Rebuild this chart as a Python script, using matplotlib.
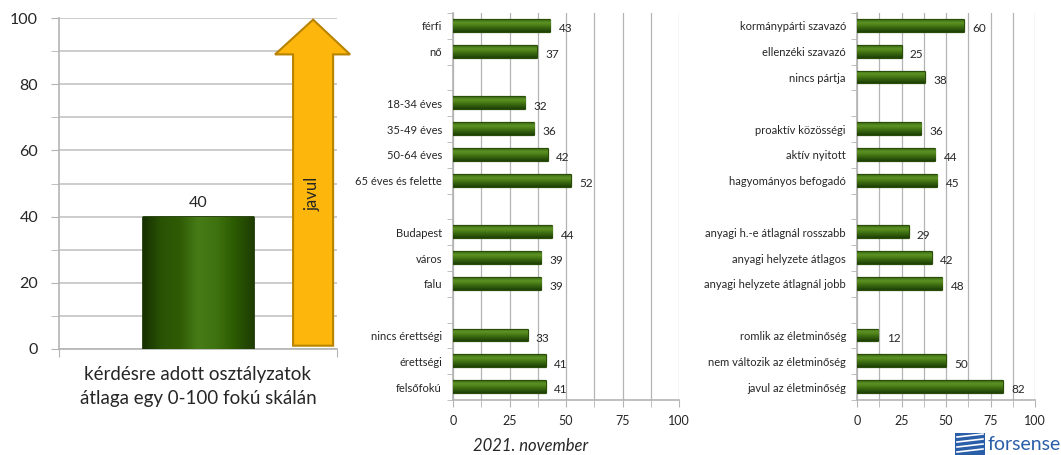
import matplotlib
matplotlib.use("Agg")
import matplotlib.pyplot as plt
import numpy as np
from matplotlib.patches import Polygon, Rectangle
from matplotlib.colors import LinearSegmentedColormap
import matplotlib.transforms as mtransforms

plt.rcParams["font.family"] = ["Lato", "DejaVu Sans"]

# ── data ──
TOTAL_LABEL = "kérdésre adott osztályzatok\nátlaga egy 0-100 fokú skálán"
TOTAL_VALUE = 40

MID_LABELS = ["férfi", "nő", "",
              "18-34 éves", "35-49 éves", "50-64 éves", "65 éves és felette", "",
              "Budapest", "város", "falu", "",
              "nincs érettségi", "érettségi", "felsőfokú"]
MID_VALUES = [43, 37, None, 32, 36, 42, 52, None, 44, 39, 39, None, 33, 41, 41]

RIGHT_LABELS = ["kormánypárti szavazó", "ellenzéki szavazó", "nincs pártja", "",
                "proaktív közösségi", "aktív nyitott", "hagyományos befogadó", "",
                "anyagi h.-e átlagnál rosszabb", "anyagi helyzete átlagos",
                "anyagi helyzete átlagnál jobb", "",
                "romlik az életminőség", "nem változik az életminőség",
                "javul az életminőség"]
RIGHT_VALUES = [60, 25, 38, None, 36, 44, 45, None, 29, 42, 48, None, 12, 50, 82]

XTICKS = [0, 25, 50, 75, 100]
YTICKS_LEFT = [0, 20, 40, 60, 80, 100]

GRID = "#b4b4b4"
TXT = "#262626"

hbar_cmap = LinearSegmentedColormap.from_list(
    "hb", ["#3c6c12", "#5f9426", "#4e8219", "#3a6a10", "#2c560b", "#1d3c06"])
vbar_cmap = LinearSegmentedColormap.from_list(
    "vb", ["#173200", "#2a5404", "#2f5b05", "#477c17", "#3f7210", "#2c5c02", "#203f02"])


def gradient_fill(ax, patch, cmap, horizontal):
    x0, y0 = patch.get_x(), patch.get_y()
    w, h = patch.get_width(), patch.get_height()
    g = np.linspace(0, 1, 64)
    img = g[np.newaxis, :] if horizontal else g[:, np.newaxis]
    im = ax.imshow(img, cmap=cmap, aspect="auto", interpolation="bicubic",
                   extent=(x0, x0 + w, y0 + h, y0) if not horizontal else (x0, x0 + w, y0, y0 + h),
                   zorder=patch.get_zorder() + 0.1)
    im.set_clip_path(patch)


def hbar_panel(ax, labels, values):
    n = len(labels)
    y = np.arange(n)
    ax.set_xlim(0, 100)
    ax.set_ylim(n - 0.5, -0.5)
    vals = [v if v is not None else 0 for v in values]
    bars = ax.barh(y, vals, height=0.46, color="#3b6a10", edgecolor="#2a4d08",
                   linewidth=1.6, joinstyle="round", zorder=3)
    for b, v, yy in zip(bars, values, y):
        if v is None:
            b.set_visible(False)
            continue
        gradient_fill(ax, b, hbar_cmap, horizontal=False)
        ax.annotate(f"{v}", (v, yy), xytext=(6, -2), textcoords="offset points",
                    ha="left", va="center", fontsize=8.5, color=TXT)
    ax.set_yticks(y)
    ax.set_yticklabels(labels, fontsize=8, color=TXT)
    ax.tick_params(axis="y", length=0, pad=8)
    ax.set_yticks(np.arange(-0.5, n, 1.0), minor=True)
    ax.tick_params(axis="y", which="minor", length=4, color=GRID)
    ax.set_xticks(XTICKS)
    ax.set_xticks(np.arange(0, 101, 12.5), minor=True)
    ax.tick_params(axis="x", which="both", length=5, color=GRID, labelsize=9,
                   labelcolor=TXT, pad=6)
    ax.grid(axis="x", which="both", color=GRID, lw=0.9, zorder=0)
    ax.set_axisbelow(True)
    for s in ["top", "right"]:
        ax.spines[s].set_visible(False)
    for s in ["left", "bottom"]:
        ax.spines[s].set_color(GRID)
        ax.spines[s].set_linewidth(1.2)


fig = plt.figure(figsize=(10.61, 4.55), dpi=100)

# ── left panel ──
axl = fig.add_axes([59 / 1061, 106 / 455, 278 / 1061, 331 / 455])
axl.set_xlim(-1, 1)
axl.set_ylim(0, 100)
bar = axl.bar([0], [TOTAL_VALUE], width=0.79, color="#2f5a05", edgecolor="#1c3a02",
              linewidth=2, joinstyle="round", zorder=3)[0]
gradient_fill(axl, bar, vbar_cmap, horizontal=True)
axl.annotate(f"{TOTAL_VALUE}", (0, TOTAL_VALUE), xytext=(0, 5), textcoords="offset points",
             ha="center", va="bottom", fontsize=11.5, color=TXT)
axl.set_yticks(YTICKS_LEFT)
axl.set_yticks(np.arange(0, 101, 10), minor=True)
axl.tick_params(axis="y", which="both", length=6, color=GRID, labelsize=11.5,
                labelcolor=TXT, pad=9)
axl.set_xticks([-1, 1])
axl.set_xticklabels([])
axl.tick_params(axis="x", length=6, color=GRID)
axl.grid(axis="y", which="both", color="#cccccc", lw=1.4, zorder=0)
axl.set_axisbelow(True)
for s in ["top", "right"]:
    axl.spines[s].set_visible(False)
for s in ["left", "bottom"]:
    axl.spines[s].set_color(GRID)
    axl.spines[s].set_linewidth(1.2)
axl.set_xlabel(TOTAL_LABEL, fontsize=13.5, color=TXT, labelpad=3, linespacing=1.45)

# arrow "javul"
trans = mtransforms.blended_transform_factory(axl.transAxes, axl.transData)
arrow = Polygon([(0.842, 1), (0.986, 1), (0.986, 89), (1.047, 89), (0.914, 99.5),
                 (0.777, 89), (0.842, 89)], closed=True, transform=trans,
                facecolor="#fdb60c", edgecolor="#b98300", lw=1.5, zorder=4, clip_on=False)
axl.add_patch(arrow)
axl.text(0.914, 47, "javul", transform=trans, rotation=90, ha="center", va="center",
         fontsize=12, color=TXT, zorder=5)

# ── middle panel ──
axm = fig.add_axes([453 / 1061, 55 / 455, 226 / 1061, 387 / 455])
hbar_panel(axm, MID_LABELS, MID_VALUES)
fig.text(531 / 1061, 1 - 446 / 455, "2021. november", ha="center", va="center",
         fontsize=12, style="italic", color=TXT)

# ── right panel ──
axr = fig.add_axes([857 / 1061, 55 / 455, 178 / 1061, 387 / 455])
hbar_panel(axr, RIGHT_LABELS, RIGHT_VALUES)

# ── logo ──
fig.patches.append(Rectangle((955 / 1061, 0), 30 / 1061, 22 / 455, transform=fig.transFigure,
                             facecolor="#2a5ea8", edgecolor="none", figure=fig))
for k in range(4):
    fig.lines.append(plt.Line2D([957 / 1061, 983 / 1061],
                                [(3 + 5 * k) / 455, (6 + 5 * k) / 455],
                                transform=fig.transFigure, color="white", lw=1.2, figure=fig))
fig.text(988 / 1061, 1 - 444 / 455, "forsense", ha="left", va="center",
         fontsize=14, color="#2a5ea8")

fig.savefig("out.png", dpi=100)
